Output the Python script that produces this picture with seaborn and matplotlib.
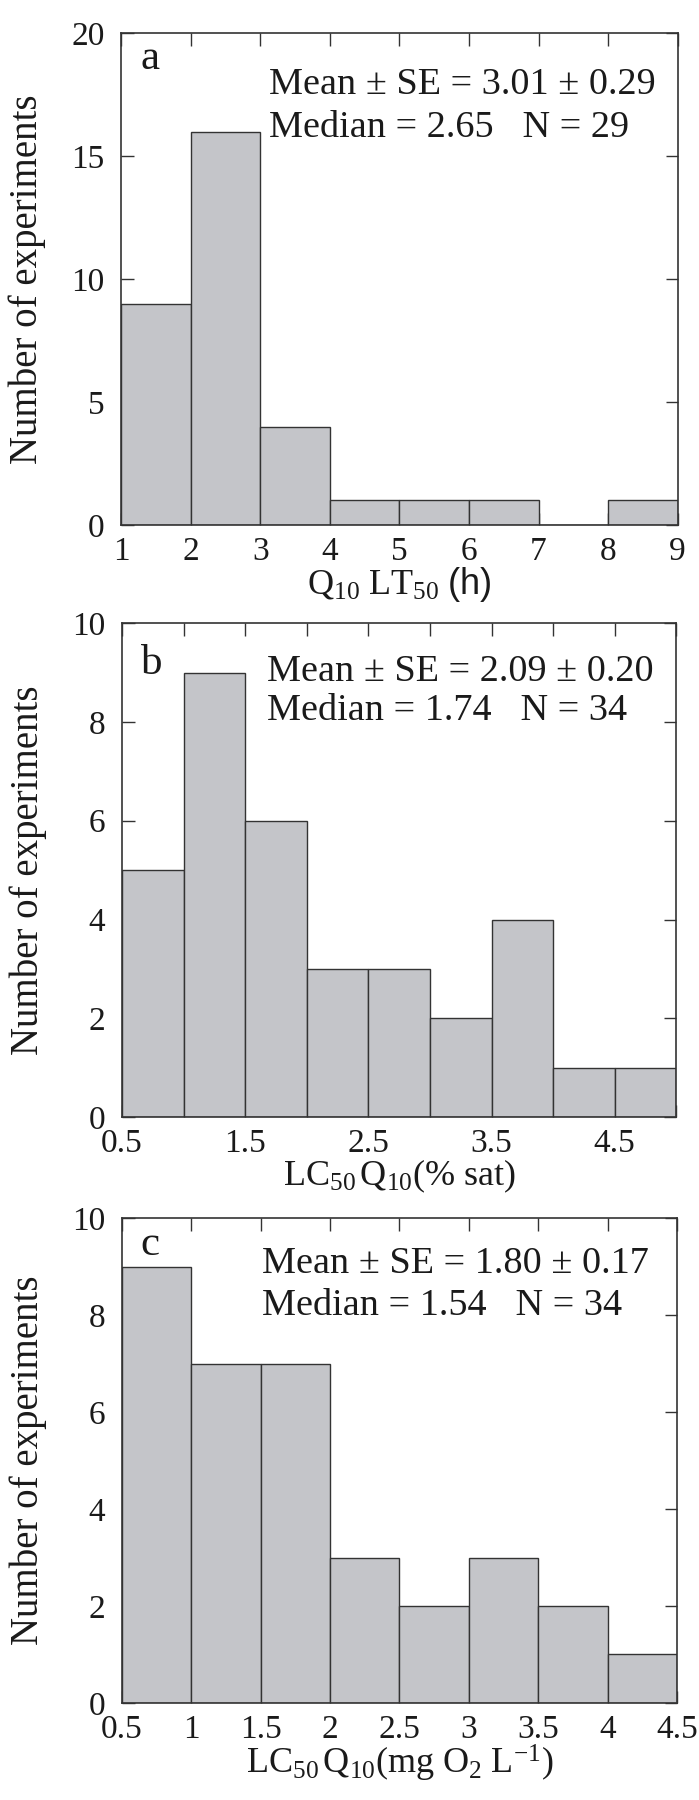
import numpy as np
import pandas as pd
import matplotlib
matplotlib.use("Agg")
import matplotlib.pyplot as plt
import seaborn as sns

# ---- data ----
edges_a = [1, 2, 3, 4, 5, 6, 7, 8, 9]
counts_a = [9, 16, 4, 1, 1, 1, 0, 1]
edges_b = [0.5, 1.0, 1.5, 2.0, 2.5, 3.0, 3.5, 4.0, 4.5, 5.0]
counts_b = [5, 9, 6, 3, 3, 2, 4, 1, 1]
edges_c = [0.5, 1.0, 1.5, 2.0, 2.5, 3.0, 3.5, 4.0, 4.5]
counts_c = [9, 7, 7, 3, 2, 3, 2, 1]

letters = ["a", "b", "c"]
stats_line1 = ["Mean \u00b1 SE = 3.01 \u00b1 0.29",
               "Mean \u00b1 SE = 2.09 \u00b1 0.20",
               "Mean \u00b1 SE = 1.80 \u00b1 0.17"]
stats_line2 = ["Median = 2.65   N = 29",
               "Median = 1.74   N = 34",
               "Median = 1.54   N = 34"]
xlabels = [r"$\mathrm{Q}_{\mathrm{10}}\ \mathrm{LT}_{\mathrm{50}}\ \mathsf{(h)}$",
           r"$\mathrm{LC}_{\mathrm{50}}\,\mathrm{Q}_{\mathrm{10}}\mathrm{(\%\ sat)}$",
           r"$\mathrm{LC}_{\mathrm{50}}\,\mathrm{Q}_{\mathrm{10}}\mathrm{(mg\ O}_{\mathrm{2}}\ \mathrm{L}^{\mathrm{-1}}\mathrm{)}$"]
ylims = [20, 10, 10]
yticks = [[0, 5, 10, 15, 20], [0, 2, 4, 6, 8, 10], [0, 2, 4, 6, 8, 10]]
xtick_major = [[1, 2, 3, 4, 5, 6, 7, 8, 9],
               [0.5, 1.5, 2.5, 3.5, 4.5],
               [0.5, 1, 1.5, 2, 2.5, 3, 3.5, 4, 4.5]]
xtick_labels = [["1", "2", "3", "4", "5", "6", "7", "8", "9"],
                ["0.5", "1.5", "2.5", "3.5", "4.5"],
                ["0.5", "1", "1.5", "2", "2.5", "3", "3.5", "4", "4.5"]]
xtick_all = [edges_a, edges_b, edges_c]

sns.set_style("ticks")
plt.rcParams["font.family"] = ["Liberation Serif", "DejaVu Serif"]
plt.rcParams["mathtext.fontset"] = "custom"
plt.rcParams["mathtext.rm"] = "Liberation Serif"
plt.rcParams["mathtext.it"] = "Liberation Serif:italic"
plt.rcParams["mathtext.sf"] = "Liberation Sans"

fig = plt.figure(figsize=(6.99, 18.0), dpi=100)
boxes = [(0.1735, 0.7083, 0.7960, 0.2733),
         (0.1745, 0.3794, 0.7930, 0.2744),
         (0.1745, 0.0539, 0.7940, 0.2694)]

datasets = [(edges_a, counts_a), (edges_b, counts_b), (edges_c, counts_c)]
ann_pos = [(0.266, 0.876, 0.789), (0.262, 0.883, 0.804), (0.252, 0.887, 0.800)]
letter_pos = [(0.034, 0.927), (0.034, 0.897), (0.034, 0.924)]

fill = "#c4c5c9"
edge = "#333333"
ink = "#1a1a1a"

for i, (edges, counts) in enumerate(datasets):
    ax = fig.add_axes(boxes[i])
    centers = [(edges[k] + edges[k + 1]) / 2 for k in range(len(counts))]
    df = pd.DataFrame({"x": centers, "w": counts})
    sns.histplot(data=df, x="x", weights="w", bins=edges, ax=ax,
                 color=fill, edgecolor=edge, linewidth=1.0, alpha=1.0)
    ax.set_xlim(edges[0], edges[-1])
    ax.set_ylim(0, ylims[i])
    ax.set_xticks(xtick_all[i], minor=True)
    ax.set_xticks(xtick_major[i])
    ax.set_xticklabels(xtick_labels[i])
    ax.set_yticks(yticks[i])
    ax.tick_params(which="both", direction="in", top=True, right=True,
                   length=9, width=1, color="#333333")
    ax.tick_params(axis="x", which="major", labelsize=24, pad=8, labelcolor=ink)
    ax.tick_params(axis="y", which="major", labelsize=24, pad=12, labelcolor=ink)
    for s in ax.spines.values():
        s.set_linewidth(1.2)
        s.set_color("#333333")
    ax.set_ylabel("Number of experiments", fontsize=28, color=ink)
    ax.yaxis.set_label_coords(-0.135, 0.5)
    ax.set_xlabel(xlabels[i], fontsize=26, labelpad=-1, color=ink)
    ax.text(letter_pos[i][0], letter_pos[i][1], letters[i], transform=ax.transAxes,
            fontsize=31, ha="left", va="baseline", color=ink)
    x0, y1, y2 = ann_pos[i]
    ax.text(x0, y1, stats_line1[i], transform=ax.transAxes, fontsize=27.5,
            ha="left", va="baseline", color=ink)
    ax.text(x0, y2, stats_line2[i], transform=ax.transAxes, fontsize=27.5,
            ha="left", va="baseline", color=ink)

fig.savefig("out.png", dpi=100)
